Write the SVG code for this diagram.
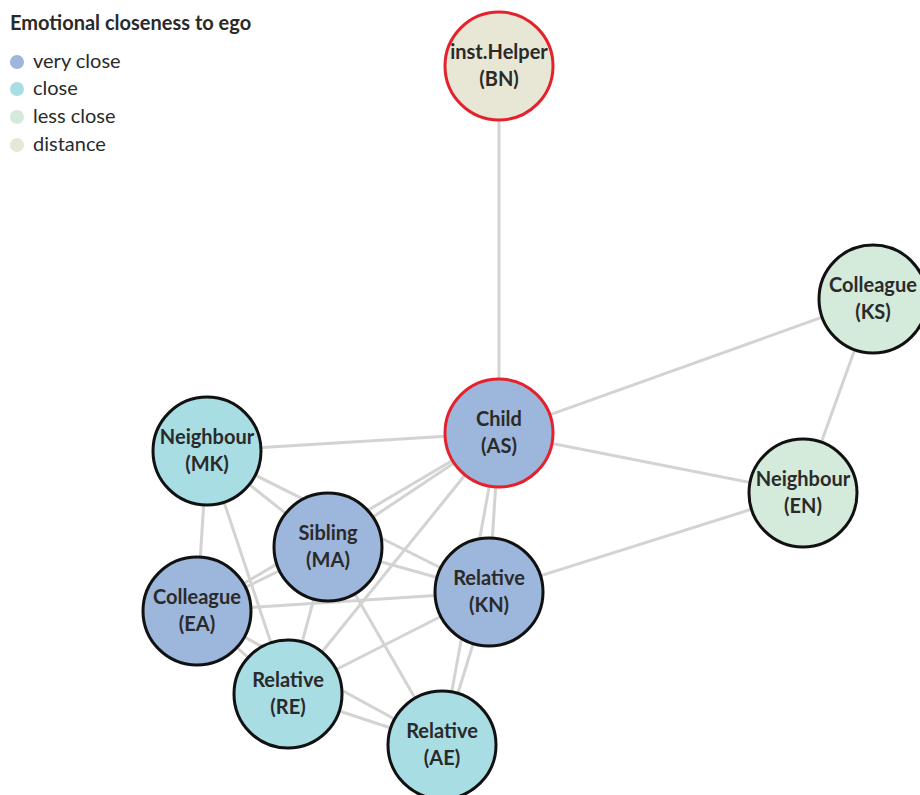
<svg xmlns="http://www.w3.org/2000/svg" width="920" height="795" viewBox="0 0 920 795">
<style>
.e{stroke:#d3d3d3;stroke-width:3;fill:none}
.n{stroke:#111;stroke-width:3}
.ego{stroke:#e5212b;stroke-width:3}
.vc{fill:#9db6db}
.c{fill:#a9dde4}
.lc{fill:#d4eadb}
.d{fill:#e8e7d6}
.t{font-family:Lato,"Open Sans","Liberation Sans",sans-serif;font-weight:bold;font-size:20px;fill:#2a2a2a;text-anchor:middle}
.lt{font-family:Lato,"Open Sans","Liberation Sans",sans-serif;font-size:20px;fill:#2a2a2a}
.lh{font-family:Lato,"Open Sans","Liberation Sans",sans-serif;font-weight:bold;font-size:20px;fill:#2a2a2a}
</style>
<rect width="920" height="795" fill="#fff"/>
<g id="legend">
<text class="lh" x="10" y="30">Emotional closeness to ego</text>
<circle class="vc" cx="17" cy="62" r="7"/><text class="lt" x="33" y="68">very close</text>
<circle class="c" cx="17" cy="89" r="7"/><text class="lt" x="33" y="95">close</text>
<circle class="lc" cx="17" cy="117" r="7"/><text class="lt" x="33" y="123">less close</text>
<circle class="d" cx="17" cy="145" r="7"/><text class="lt" x="33" y="151">distance</text>
</g>
<g id="connectors">
<line class="e" x1="499" y1="66" x2="499" y2="433"/>
<line class="e" x1="499" y1="433" x2="873" y2="299"/>
<line class="e" x1="499" y1="433" x2="803" y2="493"/>
<line class="e" x1="873" y1="299" x2="803" y2="493"/>
<line class="e" x1="803" y1="493" x2="489" y2="592"/>
<line class="e" x1="499" y1="433" x2="207" y2="451"/>
<line class="e" x1="499" y1="433" x2="328" y2="547"/>
<line class="e" x1="499" y1="433" x2="197" y2="611"/>
<line class="e" x1="499" y1="433" x2="489" y2="592"/>
<line class="e" x1="499" y1="433" x2="442" y2="745"/>
<line class="e" x1="499" y1="433" x2="288" y2="694"/>
<line class="e" x1="207" y1="451" x2="328" y2="547"/>
<line class="e" x1="207" y1="451" x2="489" y2="592"/>
<line class="e" x1="207" y1="451" x2="197" y2="611"/>
<line class="e" x1="207" y1="451" x2="288" y2="694"/>
<line class="e" x1="328" y1="547" x2="197" y2="611"/>
<line class="e" x1="328" y1="547" x2="489" y2="592"/>
<line class="e" x1="328" y1="547" x2="288" y2="694"/>
<line class="e" x1="328" y1="547" x2="442" y2="745"/>
<line class="e" x1="197" y1="611" x2="489" y2="592"/>
<line class="e" x1="197" y1="611" x2="288" y2="694"/>
<line class="e" x1="197" y1="611" x2="442" y2="745"/>
<line class="e" x1="288" y1="694" x2="489" y2="592"/>
<line class="e" x1="288" y1="694" x2="442" y2="745"/>
<line class="e" x1="489" y1="592" x2="442" y2="745"/>
</g>
<g id="BN"><circle class="d ego" cx="499" cy="66" r="54"/><text class="t" x="499" y="59">inst.Helper</text><text class="t" x="499" y="86">(BN)</text></g>
<g id="AS"><circle class="vc ego" cx="499" cy="433" r="54"/><text class="t" x="499" y="426">Child</text><text class="t" x="499" y="453">(AS)</text></g>
<g id="KS"><circle class="lc n" cx="873" cy="299" r="54"/><text class="t" x="873" y="292">Colleague</text><text class="t" x="873" y="319">(KS)</text></g>
<g id="EN"><circle class="lc n" cx="803" cy="493" r="54"/><text class="t" x="803" y="486">Neighbour</text><text class="t" x="803" y="513">(EN)</text></g>
<g id="MK"><circle class="c n" cx="207" cy="451" r="54"/><text class="t" x="207" y="444">Neighbour</text><text class="t" x="207" y="471">(MK)</text></g>
<g id="MA"><circle class="vc n" cx="328" cy="547" r="54"/><text class="t" x="328" y="540">Sibling</text><text class="t" x="328" y="567">(MA)</text></g>
<g id="EA"><circle class="vc n" cx="197" cy="611" r="54"/><text class="t" x="197" y="604">Colleague</text><text class="t" x="197" y="631">(EA)</text></g>
<g id="KN"><circle class="vc n" cx="489" cy="592" r="54"/><text class="t" x="489" y="585">Relative</text><text class="t" x="489" y="612">(KN)</text></g>
<g id="RE"><circle class="c n" cx="288" cy="694" r="54"/><text class="t" x="288" y="687">Relative</text><text class="t" x="288" y="714">(RE)</text></g>
<g id="AE"><circle class="c n" cx="442" cy="745" r="54"/><text class="t" x="442" y="738">Relative</text><text class="t" x="442" y="765">(AE)</text></g>
</svg>
